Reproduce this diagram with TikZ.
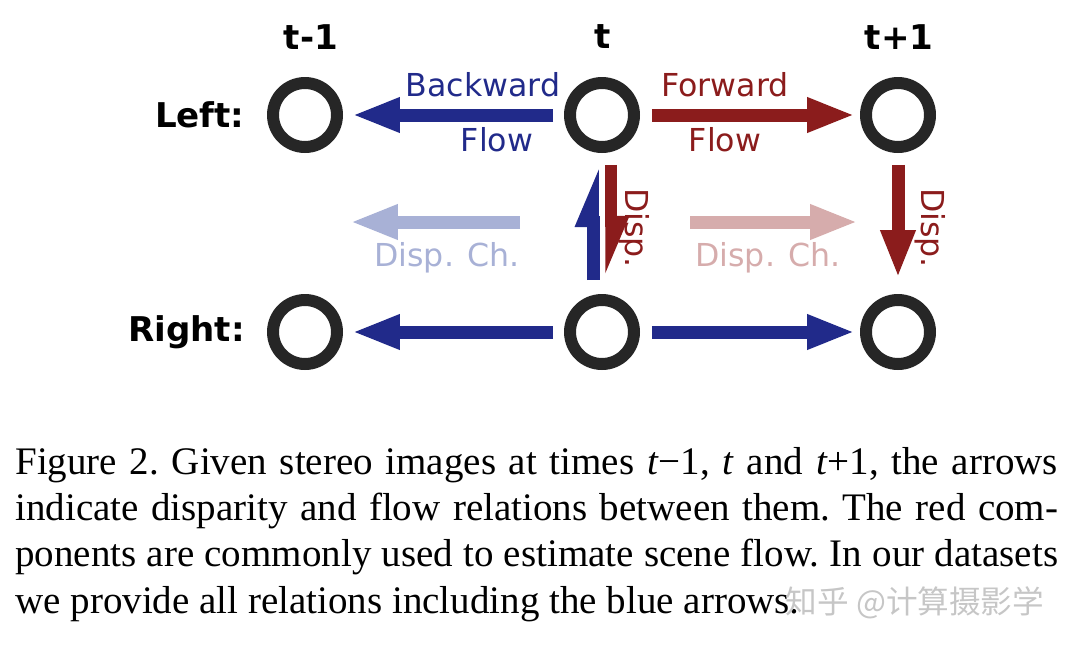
\documentclass[tikz,border=0pt]{standalone}
\usepackage{fontspec}
\setmainfont{Liberation Serif}
\newfontfamily\dejavu{DejaVu Sans}
\newfontfamily\cjk{Noto Sans CJK SC}
\usetikzlibrary{arrows.meta}

\definecolor{flowblue}{RGB}{33,42,138}
\definecolor{dispred}{RGB}{139,28,28}
\definecolor{fadeblue}{RGB}{168,177,214}
\definecolor{fadered}{RGB}{214,172,172}

\tikzset{
    frame/.style={circle, draw=black!85, line width=0.24cm, minimum size=1.28cm, inner sep=0pt},
    arr/.style={line width=0.26cm, -{Triangle[length=0.96cm, width=0.64cm]}},
    halfarr/.style={line width=0.26cm, -{Triangle[length=0.92cm, width=0.66cm, harpoon]}},
    lbl/.style={font=\dejavu\fontsize{18}{20}\selectfont, inner sep=0pt},
    head/.style={font=\dejavu\bfseries\fontsize{19.4}{22}\selectfont, inner sep=0pt},
}

\begin{document}
\begin{tikzpicture}[x=0.02cm, y=-0.02cm]
        \useasboundingbox (0,0) rectangle (1080,653);

        % Frames
        \node[frame] (L1) at (305,115) {};
        \node[frame] (L2) at (602,115) {};
        \node[frame] (L3) at (898,115) {};
        \node[frame] (R1) at (305,332) {};
        \node[frame] (R2) at (602,332) {};
        \node[frame] (R3) at (898,332) {};

        % Time and view labels
        \node[head] (tm) at (311,37) {t-1};
        \node[head] (t0) at (603,37) {t};
        \node[head] (tp) at (899,37) {t+1};
        \node[head, anchor=east] (left) at (245,115) {Left:};
        \node[head, anchor=east] (right) at (245,332) {Right:};

        % Flow arrows
        \draw[arr, flowblue, shorten <=0.22cm, shorten >=0.18cm] (L2) -- (L1);
        \draw[arr, dispred, shorten <=0.24cm, shorten >=0.1cm] (L2) -- (L3);
        \draw[arr, flowblue, shorten <=0.22cm, shorten >=0.18cm] (R2) -- (R1);
        \draw[arr, flowblue, shorten <=0.24cm, shorten >=0.1cm] (R2) -- (R3);
        \node[lbl, flowblue] (bwd) at (483,85) {Backward};
        \node[lbl, flowblue] (bwdf) at (497,140) {Flow};
        \node[lbl, dispred] (fwd) at (725,85) {Forward};
        \node[lbl, dispred] (fwdf) at (725,140) {Flow};

        % Disparity arrows
        \draw[halfarr, flowblue, shorten <=0.28cm, shorten >=0.24cm] ([xshift=-0.18cm]R2.north) -- ([xshift=-0.18cm]L2.south);
        \draw[halfarr, dispred, shorten <=0.24cm, shorten >=0.32cm] ([xshift=0.18cm]L2.south) -- ([xshift=0.18cm]R2.north);
        \draw[arr, dispred, shorten <=0.24cm, shorten >=0.32cm] (L3) -- (R3);
        \node[lbl, dispred, rotate=-90] (dsp1) at (634,228) {Disp.};
        \node[lbl, dispred, rotate=-90] (dsp2) at (930,228) {Disp.};

        % Disparity change (faded)
        \coordinate (dcl-s) at (520,222);
        \coordinate (dcl-e) at (350,222);
        \coordinate (dcr-s) at (690,222);
        \coordinate (dcr-e) at (858,222);
        \draw[arr, fadeblue] (dcl-s) -- (dcl-e);
        \draw[arr, fadered] (dcr-s) -- (dcr-e);
        \node[lbl, fadeblue] (dcl) at (447,258) {Disp. Ch.};
        \node[lbl, fadered] (dcr) at (768,258) {Disp. Ch.};

        % Caption
        \node[anchor=north west, inner sep=0pt, text width=20.86cm, align=justify,
              font=\fontsize{22.2}{26.3}\selectfont] (cap) at (15,447) {\frenchspacing
            Figure 2. Given stereo images at times \textit{t}−1, \textit{t} and \textit{t}+1, the arrows\linebreak
            indicate disparity and flow relations between them. The red com-\linebreak
            ponents are commonly used to estimate scene flow. In our datasets\linebreak
            we provide all relations including the blue arrows.};

        % Watermark
        \node[font=\cjk\fontsize{18}{20}\selectfont, text=gray!45, inner sep=0pt] (wm) at (915,603) {知乎 @计算摄影学};
\end{tikzpicture}
\end{document}
